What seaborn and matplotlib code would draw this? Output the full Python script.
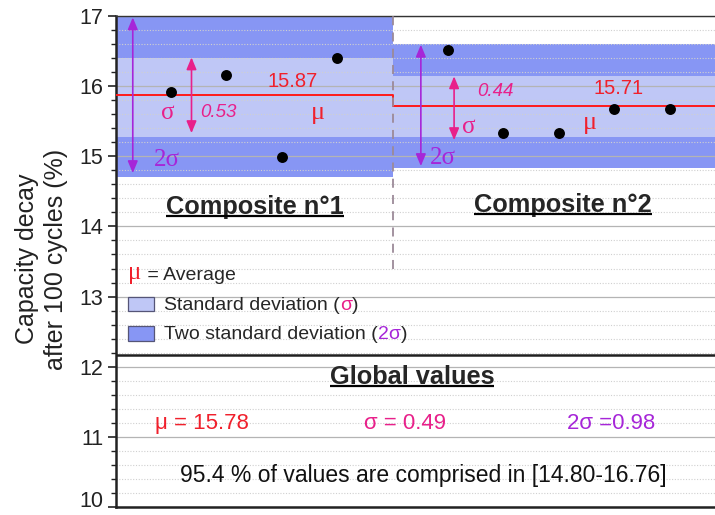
import numpy as np
import pandas as pd
import matplotlib
matplotlib.use("Agg")
import matplotlib.pyplot as plt
import seaborn as sns
from matplotlib.patches import Rectangle

# ---------------- data ----------------
composites = ["Composite n°1", "Composite n°2"]
comp1_values = [15.92, 16.16, 14.99, 16.40]
comp2_values = [16.51, 15.33, 15.33, 15.67, 15.67]
means = [15.87, 15.71]
sds = [0.53, 0.44]
# band edges as read on the picture
sd_band_lo = [15.27, 15.27]
sd_band_hi = [16.40, 16.15]
two_sd_band_lo = [14.71, 14.83]
two_sd_band_hi = [17.00, 16.60]
# arrow ends as read on the picture
sd_arrow_lo = [15.33, 15.23]
sd_arrow_hi = [16.41, 16.14]
two_sd_arrow_lo = [14.76, 14.86]
two_sd_arrow_hi = [16.98, 16.59]
global_mean = 15.78
global_sd = 0.49
global_two_sd = 0.98
global_range = [14.80, 16.76]
yticks = [10, 11, 12, 13, 14, 15, 16, 17]

# ---------------- style ----------------
sns.set_theme(style="white")
plt.rcParams["font.family"] = ["Liberation Sans", "DejaVu Sans"]
plt.rcParams["axes.axisbelow"] = "line"

RED = "#f0202c"
PINK = "#e8208a"
PURPLE = "#a626d8"
DARK = "#8796f4"
LIGHT = "#bfc7f6"
GREEK = ["Liberation Serif", "DejaVu Serif"]

fig = plt.figure(figsize=(7.15, 5.15), dpi=100)
L = 115.6 / 715
ax = fig.add_axes([L, 8 / 515, 1 - L, 491 / 515])

n1, n2 = len(comp1_values), len(comp2_values)
x1 = np.arange(1, n1 + 1)
split = n1 + 1
x2 = np.arange(split + 1, split + n2 + 1)
xmax = (715 - 115.6) / 55.4
spans = [(0, split), (split, xmax)]

ax.set_xlim(0, xmax)
ax.set_ylim(10, 17)

# bands
for i, (a, b) in enumerate(spans):
    ax.fill_between([a, b], two_sd_band_lo[i], two_sd_band_hi[i], color=DARK, lw=0, zorder=1)
    ax.fill_between([a, b], sd_band_lo[i], sd_band_hi[i], color=LIGHT, lw=0, zorder=1.1)

# grid
ax.set_yticks(yticks)
ax.set_yticks(np.arange(10, 17.01, 0.2), minor=True)
ax.grid(axis="y", which="major", color="#b4b4b4", lw=0.9, ls="-")
ax.grid(axis="y", which="minor", color="#d0d0d0", lw=0.8, ls=(0, (1, 1.5)))
ax.grid(axis="x", visible=False)

# mean step line
mean_df = pd.DataFrame({"x": [0, split, split, xmax],
                        "y": [means[0], means[0], means[1], means[1]]})
sns.lineplot(data=mean_df, x="x", y="y", sort=False, estimator=None,
             color="#ff1a1a", lw=1.4, ax=ax, zorder=3)

# divider
ax.plot([split, split], [13.4, 17], color="#9c8a98", lw=1.3, ls=(0, (5, 4)), zorder=3)

# points
pts = pd.DataFrame({"x": np.concatenate([x1, x2]),
                    "y": comp1_values + comp2_values})
sns.scatterplot(data=pts, x="x", y="y", color="black", s=62, edgecolor="black",
                linewidth=0, ax=ax, zorder=5)

# arrows and labels
two_sd_x = [0.31, split + 0.51]
sd_x = [1.37, split + 1.11]
for i in range(2):
    ax.annotate("", xy=(two_sd_x[i], two_sd_arrow_lo[i]), xytext=(two_sd_x[i], two_sd_arrow_hi[i]),
                arrowprops=dict(arrowstyle="<|-|>,head_length=0.6,head_width=0.25", color=PURPLE, lw=1.2,
                                mutation_scale=12, shrinkA=0, shrinkB=0), zorder=4)
    ax.annotate("", xy=(sd_x[i], sd_arrow_lo[i]), xytext=(sd_x[i], sd_arrow_hi[i]),
                arrowprops=dict(arrowstyle="<|-|>,head_length=0.6,head_width=0.25", color=PINK, lw=1.2,
                                mutation_scale=12, shrinkA=0, shrinkB=0), zorder=4)

# composite 1 labels
ax.text(0.95, 15.62, "σ", color=PINK, fontsize=18, family=GREEK, ha="center", va="center")
ax.text(1.52, 15.62, f"{sds[0]:.2f}", color=PINK, fontsize=13.5, style="italic", ha="left", va="center")
ax.text(0.92, 14.94, "2σ", color=PURPLE, fontsize=18, family=GREEK, ha="center", va="center")
ax.text(3.2, 16.07, f"{means[0]:.2f}", color=RED, fontsize=14.5, ha="center", va="center")
ax.text(3.65, 15.62, "μ", color=RED, fontsize=19, family=GREEK, ha="center", va="center")
# composite 2 labels
ax.text(split + 1.52, 15.93, f"{sds[1]:.2f}", color=PINK, fontsize=13.5, style="italic", ha="left", va="center")
ax.text(split + 1.38, 15.42, "σ", color=PINK, fontsize=18, family=GREEK, ha="center", va="center")
ax.text(split + 0.9, 14.97, "2σ", color=PURPLE, fontsize=18, family=GREEK, ha="center", va="center")
ax.text(split + 4.07, 15.96, f"{means[1]:.2f}", color=RED, fontsize=14.5, ha="center", va="center")
ax.text(split + 3.57, 15.47, "μ", color=RED, fontsize=19, family=GREEK, ha="center", va="center")

# headers (underlined later)
headers = []
headers.append(ax.text(2.52, 14.28, composites[0], fontsize=18.3, weight="bold", ha="center", va="center"))
headers.append(ax.text(split + 3.07, 14.3, composites[1], fontsize=18.3, weight="bold", ha="center", va="center"))

# separator for global values
ax.axhline(12.16, color="#202020", lw=1.8, zorder=4)
headers.append(ax.text(5.35, 11.85, "Global values", fontsize=18.3, weight="bold", ha="center", va="center"))

ax.text(1.56, 11.19, f"μ = {global_mean:.2f}", color=RED, fontsize=16, ha="center", va="center")
ax.text(5.23, 11.19, f"σ = {global_sd:.2f}", color=PINK, fontsize=16, ha="center", va="center")
ax.text(8.95, 11.19, f"2σ ={global_two_sd:.2f}", color=PURPLE, fontsize=16, ha="center", va="center")
ax.text(5.55, 10.45, f"95.4 % of values are comprised in [{global_range[0]:.2f}-{global_range[1]:.2f}]",
        color="#111111", fontsize=16.5, ha="center", va="center")

# legend drawn by hand
t = ax.text(0.23, 13.25, "μ", color=RED, fontsize=18, family=GREEK, ha="left", va="baseline")
ax.annotate(" = Average", xy=(1, 0), xycoords=t, fontsize=14, ha="left", va="bottom")
ax.add_patch(Rectangle((0.23, 12.79), 0.47, 0.2, facecolor=LIGHT, edgecolor="#555577", lw=0.9, zorder=4))
ax.add_patch(Rectangle((0.23, 12.37), 0.47, 0.21, facecolor=DARK, edgecolor="#555577", lw=0.9, zorder=4))
t1 = ax.text(0.88, 12.81, "Standard deviation (", fontsize=14, ha="left", va="baseline")
t2 = ax.annotate("σ", xy=(1, 0), xycoords=t1, color=PINK, fontsize=14, ha="left", va="bottom")
ax.annotate(")", xy=(1, 0), xycoords=t2, fontsize=14, ha="left", va="bottom")
t3 = ax.text(0.88, 12.39, "Two standard deviation (", fontsize=14, ha="left", va="baseline")
t4 = ax.annotate("2σ", xy=(1, 0), xycoords=t3, color=PURPLE, fontsize=14, ha="left", va="bottom")
ax.annotate(")", xy=(1, 0), xycoords=t4, fontsize=14, ha="left", va="bottom")

# axes styling
ax.set_xticks([])
ax.set_xlabel("")
ax.set_ylabel("Capacity decay\nafter 100 cycles (%)", fontsize=18, color="#222222", linespacing=1.3)
ax.yaxis.set_label_coords(-0.079, 0.505)
ax.tick_params(axis="y", which="major", length=6, width=1.2, direction="out", left=True,
               labelsize=15.5, pad=3, color="#222222", labelcolor="#222222")
ax.tick_params(axis="y", which="minor", length=3.5, width=1.0, direction="out", left=True, color="#222222")
for s in ["left", "bottom"]:
    ax.spines[s].set_color("#222222")
    ax.spines[s].set_linewidth(1.8)
ax.spines["top"].set_color("#333333")
ax.spines["top"].set_linewidth(1.0)
ax.spines["right"].set_visible(False)

# underline headers
fig.canvas.draw()
r = fig.canvas.get_renderer()
inv = ax.transData.inverted()
for h in headers:
    bb = h.get_window_extent(r)
    (xa, ya), (xb, yb) = inv.transform([(bb.x0, bb.y0 + 3), (bb.x1, bb.y0 + 3)])
    ax.plot([xa, xb], [ya, ya], color="black", lw=1.6, zorder=4, solid_capstyle="butt")

# keep the lowest tick label fully inside the figure
ax.yaxis.get_major_ticks()[0].label1.set_verticalalignment("baseline")

fig.savefig("out.png", dpi=100)
